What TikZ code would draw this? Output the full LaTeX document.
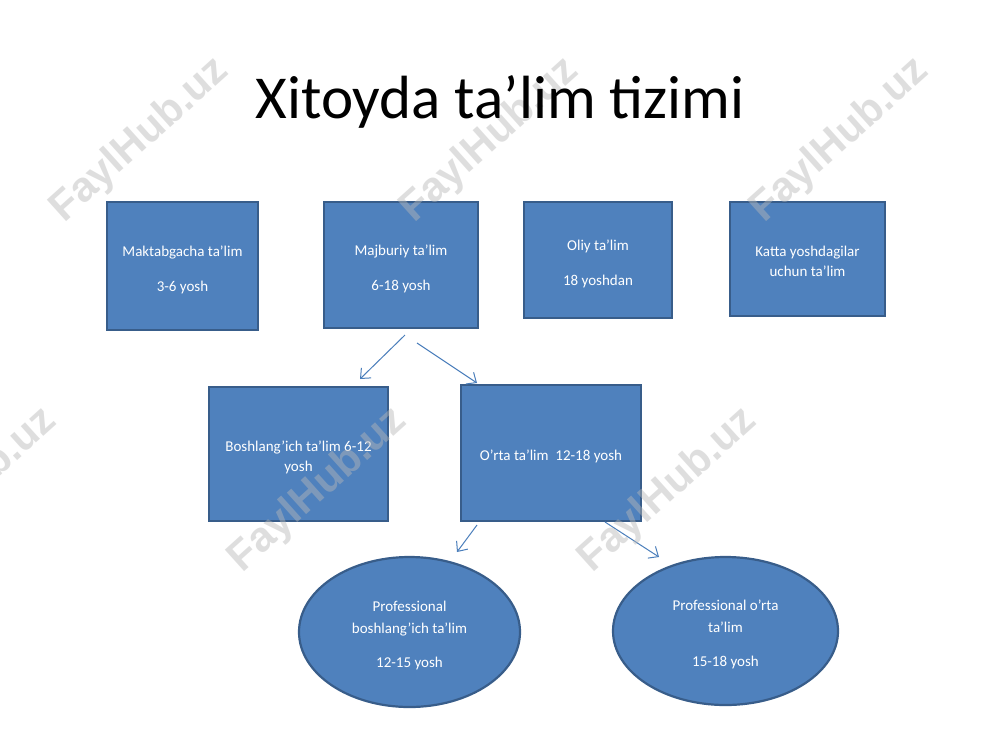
\documentclass[tikz,border=0pt]{standalone}
\usepackage{fontspec}
\setmainfont{Carlito}
\newfontfamily\wmfont{Liberation Sans}
\usetikzlibrary{arrows.meta,shapes.geometric}
\definecolor{boxfill}{HTML}{4F81BD}
\definecolor{boxline}{HTML}{385D8A}
\definecolor{arrowc}{HTML}{4A7EBB}
\begin{document}
\begin{tikzpicture}[x=1pt,y=-1pt,
  blk/.style={draw=boxline, fill=boxfill, line width=2.2pt, inner sep=0pt},
  oval/.style={blk, ellipse},
  txt/.style={text=white, font=\fontsize{15}{20}\selectfont, align=center, inner sep=0pt},
  otxt/.style={text=white, font=\fontsize{15}{22}\selectfont, align=center, inner sep=0pt},
  arr/.style={draw=arrowc, line width=1pt, -{Straight Barb[length=8pt,width=14pt]}},
  wm/.style={font=\wmfont\bfseries\fontsize{42}{50}\selectfont, text=black!28, text opacity=0.45, rotate=42, inner sep=0pt}]
\useasboundingbox (0,0) rectangle (1000,750);
\fill[white] (0,0) rectangle (1000,750);

\node[blk, minimum width=151, minimum height=128,
  label={[txt, yshift=-4pt]center:Maktabgacha ta’lim\\[15pt]3-6 yosh}] (mak) at (182.5,266) {};
\node[blk, minimum width=154, minimum height=126,
  label={[txt, yshift=-4pt]center:Majburiy ta’lim\\[15pt]6-18 yosh}] (maj) at (401,265) {};
\node[blk, minimum width=148, minimum height=116,
  label={[txt, yshift=-4pt]center:Oliy ta'lim\\[15pt]18 yoshdan}] (oliy) at (598,260) {};
\node[blk, minimum width=155, minimum height=114,
  label={[txt, yshift=-2pt]center:Katta yoshdagilar\\uchun ta'lim}] (katta) at (807.5,259) {};
\node[blk, minimum width=179, minimum height=134,
  label={[txt, yshift=-3pt]center:Boshlang'ich ta'lim 6-12\\yosh}] (bosh) at (298.5,454) {};
\node[blk, minimum width=180, minimum height=136,
  label={[txt, yshift=-3pt]center:O'rta ta'lim\ \ 12-18 yosh}] (orta) at (551,453) {};
\node[oval, minimum width=221, minimum height=150,
  label={[otxt, yshift=-3pt]center:Professional\\boshlang’ich ta’lim\\[12pt]12-15 yosh}] (pb) at (409.5,632) {};
\node[oval, minimum width=225, minimum height=148,
  label={[otxt, yshift=-3pt]center:Professional o’rta\\ta’lim\\[12pt]15-18 yosh}] (po) at (725.5,631) {};

\coordinate (a1s) at (405,335); \coordinate (a1e) at (360,379);
\coordinate (a2s) at (417,343); \coordinate (a2e) at (477,383);
\coordinate (a3s) at (477,525); \coordinate (a3e) at (457,552);
\coordinate (a4s) at (605,522); \coordinate (a4e) at (659,557);
\draw[arr] (a1s) -- (a1e);
\draw[arr] (a2s) -- (a2e);
\draw[arr] (a3s) -- (a3e);
\draw[arr] (a4s) -- (a4e);

\node[wm] (wm1) at (140,140) {FaylHub.uz};
\node[wm] (wm2) at (490,140) {FaylHub.uz};
\node[wm] (wm3) at (840,140) {FaylHub.uz};
\node[wm] (wm4) at (-32,490) {FaylHub.uz};
\node[wm] (wm5) at (318,490) {FaylHub.uz};
\node[wm] (wm6) at (668,490) {FaylHub.uz};

\node[font=\fontsize{61}{70}\selectfont, anchor=base, inner sep=0pt] (title) at (500,118)
  {Xitoyda ta’lim tizimi};
\end{tikzpicture}
\end{document}
